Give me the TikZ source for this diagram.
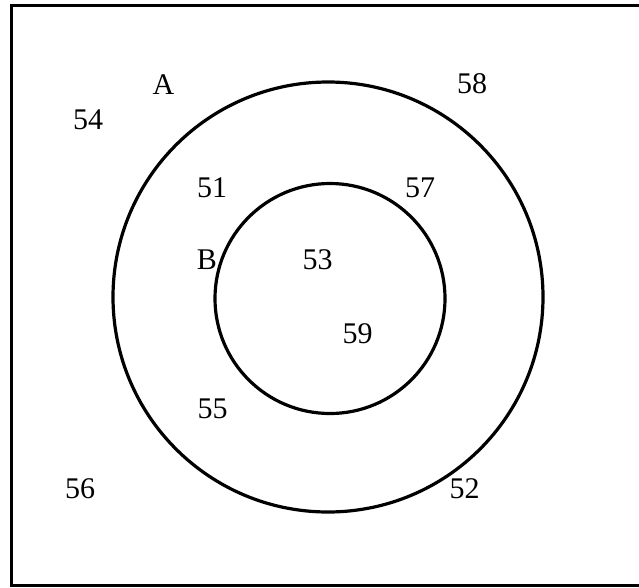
\documentclass[tikz,border=0pt]{standalone}
\usepackage{fontspec}
\setmainfont{Liberation Serif}
\begin{document}
\begin{tikzpicture}[x=1pt,y=-1pt,
  lbl/.style={font=\fontsize{30}{36}\selectfont, inner sep=0pt, anchor=center},
  ring/.style={draw=black, line width=3.2pt}]
\useasboundingbox (0,0) rectangle (639,587);
\draw[line width=3pt] (645,5.5) -- (11,5.5) -- (11,585.5) -- (645,585.5);
\node[ring, circle, minimum size=430pt, inner sep=0pt] (A) at (328,297) {};
\node[ring, circle, minimum size=230pt, inner sep=0pt] (B) at (330,298.5) {};
\node[lbl] (lA) at (163.5,85) {A};
\node[lbl] (l54) at (88,120) {54};
\node[lbl] (l58) at (472,84) {58};
\node[lbl] (l51) at (212,187.5) {51};
\node[lbl] (l57) at (420,187.5) {57};
\node[lbl] (lB) at (207,260) {B};
\node[lbl] (l53) at (317.5,260) {53};
\node[lbl] (l59) at (357.5,333.5) {59};
\node[lbl] (l55) at (212.5,408.5) {55};
\node[lbl] (l52) at (464.5,489) {52};
\node[lbl] (l56) at (80,489) {56};
\end{tikzpicture}
\end{document}
